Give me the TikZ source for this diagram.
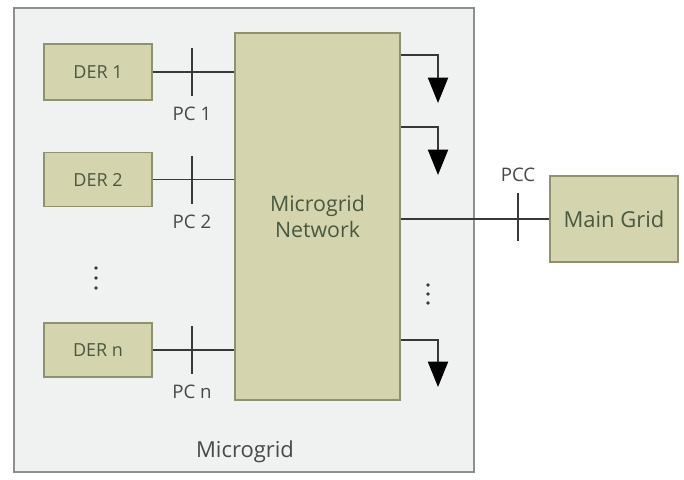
\documentclass[tikz,border=0pt]{standalone}
\usepackage{fontspec}
\setmainfont{Open Sans}
\usepackage{xcolor}
\usepackage{tikz}
\usetikzlibrary{calc,arrows.meta,positioning}
\definecolor{olivebox}{HTML}{D4D5AE}
\definecolor{oliveline}{HTML}{8E9270}
\definecolor{olivetext}{HTML}{4A5840}
\definecolor{mgbg}{HTML}{F0F1F1}
\definecolor{mgline}{HTML}{8C9090}
\definecolor{wirec}{HTML}{383838}
\definecolor{labelc}{HTML}{484848}
\tikzset{
  box/.style={draw=oliveline,thick,fill=olivebox,text=olivetext,align=center,inner sep=0pt,font=\fontsize{13.5}{16}\selectfont},
  wire/.style={wirec,line width=1.4pt},
  load/.style={wire,-{Triangle[length=19pt,width=15pt,color=black]}},
  tick/.style={wirec,line width=1.4pt},
  lbl/.style={text=labelc,font=\fontsize{14}{16}\selectfont,inner sep=0pt}
}

\begin{document}
\begin{tikzpicture}[x=0.75pt,y=-0.75pt]
\useasboundingbox (0,0) rectangle (684,479);
% microgrid area
\draw[mgline,thick,fill=mgbg] (14,8) rectangle (474,472);
\node[lbl,font=\fontsize{16.5}{19}\selectfont] (mglbl) at (245,452) {Microgrid};

% network and sources
\node[box,minimum width=123.75pt,minimum height=275.25pt,font=\fontsize{16}{19}\selectfont] (net) at (317.5,216.5) {Microgrid\\Network};
\node[box,minimum width=81pt,minimum height=42pt] (der1) at (98,72) {DER 1};
\node[box,minimum width=81pt,minimum height=41pt] (der2) at (98,179.5) {DER 2};
\node[box,minimum width=81pt,minimum height=40.5pt] (dern) at (98,350) {DER n};
\node[box,minimum width=96pt,minimum height=64.5pt,font=\fontsize{16.5}{19}\selectfont] (grid) at (614,219) {Main Grid};

% feeders with points of connection
\foreach \d/\t in {der1/1,der2/2,dern/n}{
  \draw[wire] (\d.east) -- (\d.east -| net.west);
  \coordinate (pc\t) at ($(\d.east)!0.5!(\d.east -| net.west)$);
  \draw[tick] ($(pc\t |- \d.east)+(-1.5,-24)$) -- ++(0,48);
  \node[lbl] (pclbl\t) at ($(pc\t)+(-1.5,42)$) {PC \t};
}

% point of common coupling
\draw[wire] (net.east |- grid.west) -- (grid.west);
\coordinate (pcc) at (518,217);
\draw[tick] ($(pcc)+(0,-24)$) -- ++(0,48);
\node[lbl] (pcclbl) at ($(pcc)+(0,-42)$) {PCC};

% loads
\coordinate (t1) at (438,55);  \coordinate (ld1) at (438,103);
\coordinate (t2) at (438,127); \coordinate (ld2) at (438,175);
\coordinate (t3) at (438,340); \coordinate (ld3) at (438,387);
\draw[load] (net.east |- t1) -| (ld1);
\draw[load] (net.east |- t2) -| (ld2);
\draw[load] (net.east |- t3) -| (ld3);

% dots
\foreach \y in {268,278,288} \fill[wirec] (96,\y) circle (1.8);
\foreach \y in {285,294,303} \fill[wirec] (428,\y) circle (1.8);
\end{tikzpicture}
\end{document}
